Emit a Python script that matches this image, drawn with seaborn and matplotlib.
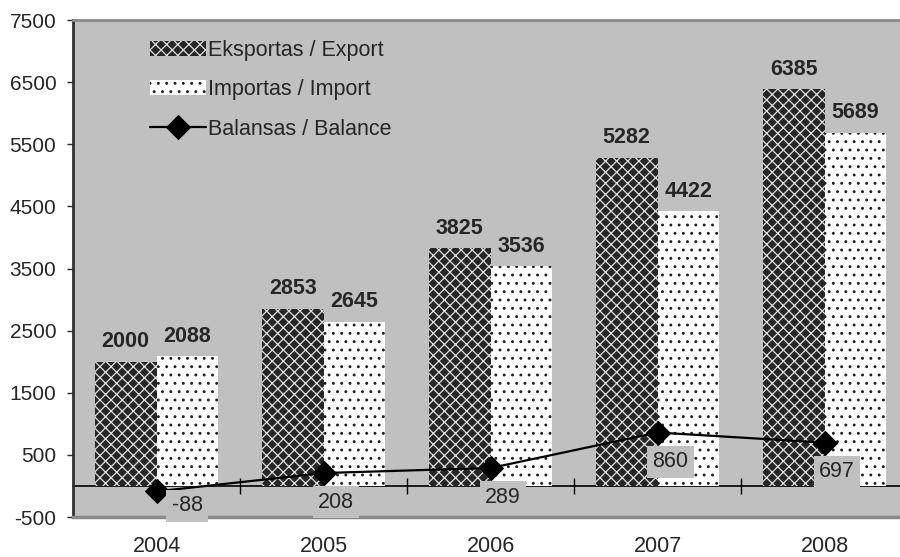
import numpy as np
import pandas as pd
import seaborn as sns
import matplotlib.pyplot as plt

# data
years = ['2004', '2005', '2006', '2007', '2008']
eksportas = [2000, 2853, 3825, 5282, 6385]
importas = [2088, 2645, 3536, 4422, 5689]
balansas = [-88, 208, 289, 860, 697]
series_names = ['Eksportas / Export', 'Importas / Import', 'Balansas / Balance']

sns.set_style('white')
plt.rcParams['font.family'] = ['Liberation Sans', 'DejaVu Sans']
plt.rcParams['axes.unicode_minus'] = False
plt.rcParams['hatch.linewidth'] = 0.9

df = pd.DataFrame({
    'year': years * 2,
    'value': eksportas + importas,
    'series': [series_names[0]] * len(years) + [series_names[1]] * len(years),
})

fig = plt.figure(figsize=(9, 5.57), dpi=100)
ax = fig.add_axes([0.0811, 0.0718, 0.928, 0.8922])
ax.set_facecolor('#c0c0c0')

sns.barplot(data=df, x='year', y='value', hue='series',
            palette=['#262626', 'white'], width=0.74, gap=0,
            saturation=1, legend=False, ax=ax)

# fill patterns like the excel original
for p in ax.containers[0]:
    p.set_hatch('xxx')
    p.set_edgecolor('#e0e0e0')
    p.set_linewidth(0)
for p in ax.containers[1]:
    p.set_hatch('..')
    p.set_edgecolor('#202020')
    p.set_linewidth(0)

for c in ax.containers:
    ax.bar_label(c, fontsize=15.5, fontweight='bold', padding=7)

sns.lineplot(x=np.arange(len(years)), y=balansas, ax=ax, color='black',
             marker='D', markersize=12, linewidth=1.6, markeredgecolor='black',
             legend=False)
line = ax.lines[-1]

# balance labels, gray boxes below the markers
for i, v in enumerate(balansas):
    off = (22, -10.5) if v < 0 else (9, -21)
    ax.annotate(str(v), (i, v), xytext=off, textcoords='offset points',
                ha='center', va='center', fontsize=15.5, zorder=5,
                bbox=dict(boxstyle='square,pad=0.25', fc='#c0c0c0', ec='none'))

ax.set_ylim(-500, 7500)
ax.set_xlim(-0.5, len(years) - 0.5)
ax.set_yticks(np.arange(-500, 7501, 1000))
ax.tick_params(axis='y', direction='out', length=4, width=1, left=True,
               labelsize=15, pad=8)
ax.tick_params(axis='x', length=0, labelsize=15.5, pad=14)
ax.set_xlabel('')
ax.set_ylabel('')

ax.spines['left'].set_color('#303030')
ax.spines['left'].set_linewidth(2)
ax.spines['top'].set_color('#8a8a8a')
ax.spines['top'].set_linewidth(2)
ax.spines['bottom'].set_color('#8a8a8a')
ax.spines['bottom'].set_linewidth(2.5)
ax.spines['right'].set_visible(False)

# zero line with category separators
zero = (0 - ax.get_ylim()[0]) / (ax.get_ylim()[1] - ax.get_ylim()[0])
sec = ax.secondary_xaxis(zero)
sec.set_xticks(np.arange(len(years) - 1) + 0.5, labels=[])
sec.tick_params(direction='inout', length=12, width=1, color='black')
for s in sec.spines.values():
    s.set_color('black')
    s.set_linewidth(1.2)

handles = [ax.containers[0][0], ax.containers[1][0], line]
ax.legend(handles, series_names, loc='upper left', bbox_to_anchor=(0.092, 0.96),
          frameon=False, fontsize=15.5, handlelength=2.6, handletextpad=0.1,
          labelspacing=0.85, borderpad=0, borderaxespad=0)

fig.savefig('out.png', dpi=100)
